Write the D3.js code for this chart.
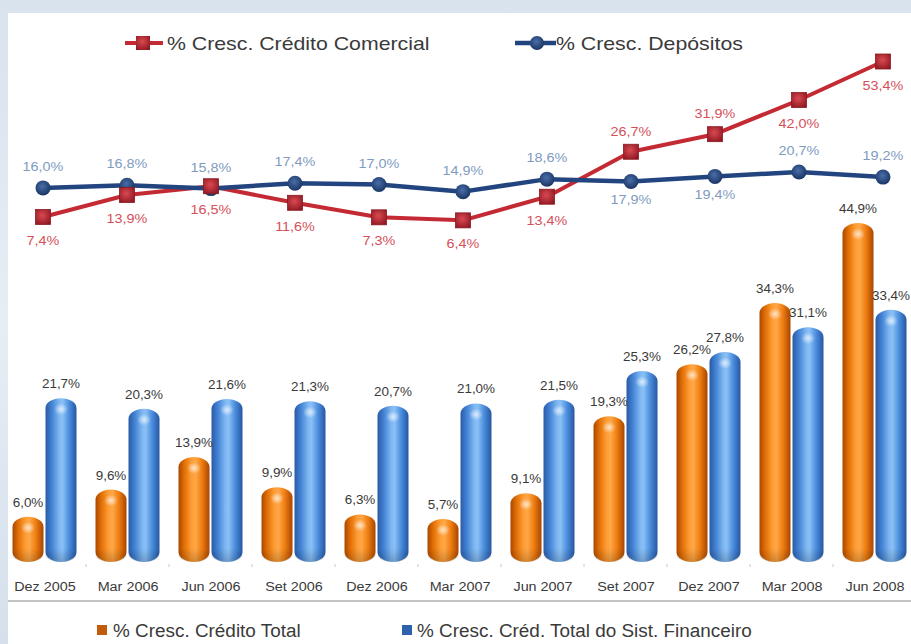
<!DOCTYPE html>
<html>
<head>
<meta charset="utf-8">
<script src="https://cdn.jsdelivr.net/npm/d3@7"></script>
<style>
  html, body { margin: 0; padding: 0; background: #ffffff; }
  svg { display: block; font-family: "Liberation Sans", Arial, sans-serif; }
</style>
</head>
<body>
<svg id="chart" width="911" height="644"></svg>
<script>
// Quarterly periods
const periods = ["Dez 2005", "Mar 2006", "Jun 2006", "Set 2006", "Dez 2006", "Mar 2007",
                 "Jun 2007", "Set 2007", "Dez 2007", "Mar 2008", "Jun 2008"];

// Lines (%)
const credComercial = [7.4, 13.9, 16.5, 11.6, 7.3, 6.4, 13.4, 26.7, 31.9, 42.0, 53.4];
const depositos     = [16.0, 16.8, 15.8, 17.4, 17.0, 14.9, 18.6, 17.9, 19.4, 20.7, 19.2];

// Bars (%)
const credTotal     = [6.0, 9.6, 13.9, 9.9, 6.3, 5.7, 9.1, 19.3, 26.2, 34.3, 44.9];
const credSistFin   = [21.7, 20.3, 21.6, 21.3, 20.7, 21.0, 21.5, 25.3, 27.8, 31.1, 33.4];

// Legend texts
const lineLegend = ["% Cresc. Crédito Comercial", "% Cresc. Depósitos"];
const barLegend  = ["% Cresc. Crédito Total", "% Cresc. Créd. Total do Sist. Financeiro"];

const fmt = v => d3.format(".1f")(v).replace(".", ",") + "%";

const svg = d3.select("#chart");
const W = 911, H = 644;

// Horizontal stretch of text, the lettering in this chart is wide
function stretch(sel, k) {
  sel.each(function () {
    const w = this.getComputedTextLength();
    d3.select(this).attr("textLength", w * k).attr("lengthAdjust", "spacingAndGlyphs");
  });
}

// ---------- background ----------
const defs = svg.append("defs");
const bgGrad = defs.append("linearGradient").attr("id", "bgStrip")
  .attr("x1", 0).attr("y1", 0).attr("x2", 0).attr("y2", 1);
bgGrad.append("stop").attr("offset", "0%").attr("stop-color", "#d9e3ee");
bgGrad.append("stop").attr("offset", "50%").attr("stop-color", "#e6edf5");
bgGrad.append("stop").attr("offset", "100%").attr("stop-color", "#d5e0ec");
svg.append("rect").attr("width", W).attr("height", H).attr("fill", "url(#bgStrip)");
svg.append("rect").attr("x", 8).attr("y", 13).attr("width", W - 8).attr("height", H - 13).attr("fill", "#ffffff");

// ---------- scales ----------
const xBar  = d3.scalePoint().domain(periods).range([44.5, 874.5]);
const xLine = d3.scalePoint().domain(periods).range([43, 883]);
const yBar  = d3.scaleLinear().domain([0, 50]).range([562, 562 - 377.5]);
const yLine = d3.scaleLinear().domain([0, 60]).range([242, 242 - 202.8]);

const barW = 31, barOff = 16.5;

// ---------- bar gradients ----------
function cylGradient(id, stops) {
  const g = defs.append("linearGradient").attr("id", id)
    .attr("x1", 0).attr("y1", 0).attr("x2", 1).attr("y2", 0);
  stops.forEach(([o, c]) => g.append("stop").attr("offset", o).attr("stop-color", c));
}
cylGradient("gOrange", [["0%", "#a94700"], ["18%", "#e06e05"], ["42%", "#ff9d35"],
                        ["55%", "#ffa747"], ["75%", "#f07f12"], ["100%", "#a84600"]]);
cylGradient("gBlue", [["0%", "#2a5aa4"], ["20%", "#4282d4"], ["45%", "#80b8f2"],
                      ["55%", "#89c0f6"], ["78%", "#4789da"], ["100%", "#2756a0"]]);
const hl = defs.append("radialGradient").attr("id", "gHigh")
  .attr("cx", "50%").attr("cy", "50%").attr("r", "50%");
hl.append("stop").attr("offset", "0%").attr("stop-color", "#ffffff").attr("stop-opacity", 0.7);
hl.append("stop").attr("offset", "100%").attr("stop-color", "#ffffff").attr("stop-opacity", 0);
const shade = defs.append("linearGradient").attr("id", "gShade")
  .attr("x1", 0).attr("y1", 0).attr("x2", 0).attr("y2", 1);
shade.append("stop").attr("offset", "0%").attr("stop-color", "#000").attr("stop-opacity", 0);
shade.append("stop").attr("offset", "100%").attr("stop-color", "#000").attr("stop-opacity", 0.18);

// ---------- bars ----------
const barSeries = [
  { values: credTotal,   off: -barOff, fill: "url(#gOrange)" },
  { values: credSistFin, off:  barOff, fill: "url(#gBlue)" }
];
const gBars = svg.append("g");
barSeries.forEach(s => {
  const g = gBars.append("g");
  periods.forEach((p, i) => {
    const v = s.values[i];
    const cx = xBar(p) + s.off;
    const x0 = cx - barW / 2;
    const y0 = yBar(v), h = yBar(0) - yBar(v);
    g.append("rect").attr("x", x0).attr("y", y0).attr("width", barW).attr("height", h)
      .attr("rx", barW / 2).attr("ry", 10).attr("fill", s.fill);
    g.append("rect").attr("x", x0).attr("y", yBar(0) - 14).attr("width", barW).attr("height", 14)
      .attr("rx", barW / 2).attr("ry", 8).attr("fill", "url(#gShade)");
    g.append("ellipse").attr("cx", cx).attr("cy", y0 + 11).attr("rx", 7).attr("ry", 6)
      .attr("fill", "url(#gHigh)");
  });
});

// bar value labels
const gBarLbl = svg.append("g").attr("font-size", 12).attr("fill", "#3a3a3a").attr("text-anchor", "middle");
barSeries.forEach(s => {
  periods.forEach((p, i) => {
    gBarLbl.append("text").attr("x", xBar(p) + s.off).attr("y", yBar(s.values[i]) - 10)
      .text(fmt(s.values[i])).call(stretch, 1.12);
  });
});

// small separators between groups and baseline of the axis
const gTicks = svg.append("g").attr("stroke", "#c8c8c8").attr("stroke-width", 1);
periods.slice(0, -1).forEach(p => {
  const x = xBar(p) + 41.5;
  gTicks.append("line").attr("x1", x).attr("x2", x).attr("y1", yBar(0) + 2).attr("y2", yBar(0) + 5);
});
svg.append("line").attr("x1", 8).attr("x2", W).attr("y1", 601).attr("y2", 601)
  .attr("stroke", "#c4c4c4").attr("stroke-width", 2);

// x axis labels
const xAxis = d3.axisBottom(xBar).tickSize(0).tickPadding(0);
const gAxis = svg.append("g").attr("transform", "translate(0,582)").call(xAxis);
gAxis.select(".domain").remove();
gAxis.selectAll("text").attr("font-size", 12.5).attr("fill", "#3a3a3a")
  .attr("font-family", "Liberation Sans, Arial, sans-serif").call(stretch, 1.15);

// ---------- lines ----------
const comColor = "#c42a33", depColor = "#23457f";
const lineGen = vals => d3.line().x((d, i) => xLine(periods[i])).y(d => yLine(d))(vals);

svg.append("path").attr("d", lineGen(credComercial)).attr("fill", "none")
  .attr("stroke", comColor).attr("stroke-width", 4).attr("stroke-linejoin", "round");
svg.append("path").attr("d", lineGen(depositos)).attr("fill", "none")
  .attr("stroke", depColor).attr("stroke-width", 4.5).attr("stroke-linejoin", "round");

// markers
const sq = 15;
const sqGrad = defs.append("radialGradient").attr("id", "gSq").attr("cx", "45%").attr("cy", "40%").attr("r", "70%");
sqGrad.append("stop").attr("offset", "0%").attr("stop-color", "#d94a52");
sqGrad.append("stop").attr("offset", "100%").attr("stop-color", "#8e1620");
const ciGrad = defs.append("radialGradient").attr("id", "gCi").attr("cx", "45%").attr("cy", "40%").attr("r", "65%");
ciGrad.append("stop").attr("offset", "0%").attr("stop-color", "#4a6ea8");
ciGrad.append("stop").attr("offset", "100%").attr("stop-color", "#16315f");

svg.append("g").selectAll("circle").data(depositos).join("circle")
  .attr("cx", (d, i) => xLine(periods[i])).attr("cy", d => yLine(d)).attr("r", 7.5)
  .attr("fill", "url(#gCi)");
svg.append("g").selectAll("rect").data(credComercial).join("rect")
  .attr("x", (d, i) => xLine(periods[i]) - sq / 2).attr("y", d => yLine(d) - sq / 2)
  .attr("width", sq).attr("height", sq).attr("fill", "url(#gSq)")
  .attr("stroke", "#8a1a22").attr("stroke-width", 0.8);

// line value labels (placement on the side that keeps them clear of the other line)
const depBelow = new Set(["Set 2007", "Dez 2007"]);
const comAbove = new Set(["Set 2007", "Dez 2007"]);
const gLineLbl = svg.append("g").attr("font-size", 12.5).attr("text-anchor", "middle");
depositos.forEach((v, i) => {
  const p = periods[i];
  gLineLbl.append("text").attr("x", xLine(p))
    .attr("y", yLine(v) + (depBelow.has(p) ? 23 : -17))
    .attr("fill", "#7f9bc0").text(fmt(v)).call(stretch, 1.15);
});
credComercial.forEach((v, i) => {
  const p = periods[i];
  gLineLbl.append("text").attr("x", xLine(p))
    .attr("y", yLine(v) + (comAbove.has(p) ? -16 : 28))
    .attr("fill", "#d4505a").text(fmt(v)).call(stretch, 1.15);
});

// ---------- legends ----------
const gLeg = svg.append("g").attr("font-size", 19).attr("fill", "#3a3a3a");
// Crédito Comercial
gLeg.append("line").attr("x1", 125).attr("x2", 163).attr("y1", 43).attr("y2", 43)
  .attr("stroke", comColor).attr("stroke-width", 4);
gLeg.append("rect").attr("x", 143 - 7).attr("y", 43 - 7).attr("width", 14).attr("height", 14)
  .attr("fill", "url(#gSq)");
gLeg.append("text").attr("x", 167).attr("y", 50).text(lineLegend[0]).call(stretch, 1.12);
// Depósitos
gLeg.append("line").attr("x1", 515).attr("x2", 556).attr("y1", 43).attr("y2", 43)
  .attr("stroke", depColor).attr("stroke-width", 4.5);
gLeg.append("circle").attr("cx", 537).attr("cy", 43).attr("r", 7).attr("fill", "url(#gCi)");
gLeg.append("text").attr("x", 556).attr("y", 50).text(lineLegend[1]).call(stretch, 1.12);

// bar legend
const gLeg2 = svg.append("g").attr("font-size", 18).attr("fill", "#3a3a3a");
gLeg2.append("rect").attr("x", 97).attr("y", 625).attr("width", 10).attr("height", 10).attr("fill", "#c25c0a");
gLeg2.append("text").attr("x", 113).attr("y", 637).text(barLegend[0]).call(stretch, 1.05);
gLeg2.append("rect").attr("x", 402).attr("y", 625).attr("width", 10).attr("height", 10).attr("fill", "#2f62ad");
gLeg2.append("text").attr("x", 417).attr("y", 637).text(barLegend[1]).call(stretch, 1.05);
</script>
</body>
</html>
